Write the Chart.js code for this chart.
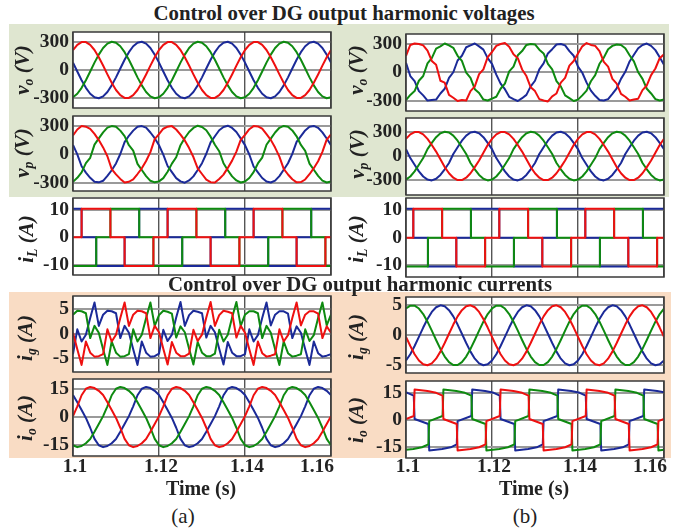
<!DOCTYPE html>
<html><head><meta charset="utf-8">
<script src="https://cdn.jsdelivr.net/npm/chart.js@4.4.1/dist/chart.umd.min.js"></script>
<style>
html,body{margin:0;padding:0;background:#fff;}
#wrap{position:relative;width:674px;height:529px;overflow:hidden;font-family:"Liberation Serif","Times New Roman",serif;color:#222;}
.bg{position:absolute;}
#cv canvas{position:absolute;}
.t{position:absolute;white-space:nowrap;line-height:1;transform:translateX(-50%);}
.yl{position:absolute;white-space:nowrap;line-height:1;font-weight:bold;font-style:italic;font-size:21px;transform:translate(-50%,-50%) rotate(-90deg);}
.yl sub{font-size:65%;vertical-align:-0.3em;}
</style></head><body>
<div id="wrap">
 <div class="bg" style="left:9px;top:24px;width:660px;height:173px;background:#dfe6d0"></div>
 <div class="bg" style="left:9px;top:292px;width:662px;height:166px;background:#f9dcc4"></div>
 <div id="cv"></div>
 <div class="t" style="left:344px;top:3px;font-size:20.8px;font-weight:bold">Control over DG output harmonic voltages</div>
 <div class="t" style="left:360px;top:274px;font-size:20.8px;font-weight:bold">Control over DG output harmonic currents</div>
 <div class="t" style="left:201px;top:478px;font-size:20px;font-weight:bold">Time (s)</div>
 <div class="t" style="left:534px;top:478px;font-size:20px;font-weight:bold">Time (s)</div>
 <div class="t" style="left:183px;top:506px;font-size:21px">(a)</div>
 <div class="t" style="left:525px;top:506px;font-size:21px">(b)</div>
 <div class="yl" style="left:24px;top:70px">v<sub>o</sub> (V)</div>
 <div class="yl" style="left:24px;top:153px">v<sub>p</sub> (V)</div>
 <div class="yl" style="left:28px;top:239px">i<sub>L</sub> (A)</div>
 <div class="yl" style="left:27px;top:338px">i<sub>g</sub> (A)</div>
 <div class="yl" style="left:27px;top:418px">i<sub>o</sub> (A)</div>
 <div class="yl" style="left:358px;top:70px">v<sub>o</sub> (V)</div>
 <div class="yl" style="left:359px;top:154px">v<sub>p</sub> (V)</div>
 <div class="yl" style="left:358px;top:239px">i<sub>L</sub> (A)</div>
 <div class="yl" style="left:358px;top:337px">i<sub>g</sub> (A)</div>
 <div class="yl" style="left:358px;top:420px">i<sub>o</sub> (A)</div>
</div>
<script>
// ---------- data ----------
const xTickValues = [1.1, 1.12, 1.14, 1.16];
const xTickLabels = ['1.1', '1.12', '1.14', '1.16'];
const time = [1.100,1.101,1.102,1.103,1.104,1.105,1.106,1.107,1.108,1.109,
1.110,1.111,1.112,1.113,1.114,1.115,1.116,1.117,1.118,1.119,
1.120,1.121,1.122,1.123,1.124,1.125,1.126,1.127,1.128,1.129,
1.130,1.131,1.132,1.133,1.134,1.135,1.136,1.137,1.138,1.139,
1.140,1.141,1.142,1.143,1.144,1.145,1.146,1.147,1.148,1.149,
1.150,1.151,1.152,1.153,1.154,1.155,1.156,1.157,1.158,1.159,1.160];

// (a) vo
const voA_red = [212,267,296,296,267,212,136,47,-47,-136,-212,-267,-296,-296,-267,-212,-136,-47,47,136,
212,267,296,296,267,212,136,47,-47,-136,-212,-267,-296,-296,-267,-212,-136,-47,47,136,
212,267,296,296,267,212,136,47,-47,-136,-212,-267,-296,-296,-267,-212,-136,-47,47,136,212];
const voA_green = [-290,-252,-189,-108,-16,78,163,233,280,300,290,252,189,108,16,-78,-163,-233,-280,-300,
-290,-252,-189,-108,-16,78,163,233,280,300,290,252,189,108,16,-78,-163,-233,-280,-300,
-290,-252,-189,-108,-16,78,163,233,280,300,290,252,189,108,16,-78,-163,-233,-280,-300,-290];
const voA_blue = [78,-16,-108,-189,-252,-290,-300,-280,-233,-163,-78,16,108,189,252,290,300,280,233,163,
78,-16,-108,-189,-252,-290,-300,-280,-233,-163,-78,16,108,189,252,290,300,280,233,163,
78,-16,-108,-189,-252,-290,-300,-280,-233,-163,-78,16,108,189,252,290,300,280,233,163,78];
// (a) vp
const vpA_red = [200,262,300,292,268,215,150,72,-22,-158,-214,-262,-300,-292,-266,-210,-150,-72,22,160,
212,270,292,298,262,208,146,65,-30,-150,-210,-270,-296,-300,-262,-216,-145,-68,28,152,
205,265,298,295,270,212,152,70,-25,-155,-215,-265,-298,-295,-268,-212,-148,-75,25,155,210];
const vpA_green = [-292,-250,-192,-95,-38,102,168,232,282,298,292,250,192,95,38,-102,-168,-232,-282,-298,
-288,-254,-186,-100,-32,96,172,235,278,302,288,254,186,100,32,-96,-170,-235,-278,-300,
-290,-252,-190,-98,-36,100,165,230,280,300,290,252,190,98,36,-100,-165,-230,-280,-300,-290];
const vpA_blue = [98,-2,-128,-195,-250,-292,-298,-282,-230,-170,-98,2,128,195,250,292,298,282,230,170,
95,-5,-125,-190,-254,-288,-302,-278,-235,-168,-95,5,125,190,254,288,302,278,235,168,
96,-3,-130,-192,-252,-290,-300,-280,-232,-165,-96,3,130,192,252,290,300,280,232,166,96];
// (b) vo
const voB_red = [175,290,305,300,285,230,120,80,-90,-110,-240,-270,-305,-295,-300,-200,-150,-20,30,160,
215,280,300,310,270,190,150,30,-40,-160,-200,-285,-300,-310,-255,-225,-110,-60,70,120,
200,275,310,290,280,225,110,60,-70,-120,-230,-260,-300,-290,-280,-190,-140,-30,40,150,190];
const voB_green = [-295,-240,-200,-90,-40,95,150,250,275,305,285,260,175,120,-5,-60,-180,-220,-290,-300,
-280,-260,-175,-120,10,60,180,225,290,300,295,240,200,90,30,-95,-150,-245,-275,-305,
-290,-245,-195,-95,-30,90,155,245,280,295,290,255,180,115,0,-70,-175,-225,-285,-300,-290];
const voB_blue = [100,-40,-95,-200,-245,-300,-295,-290,-225,-175,-60,0,125,175,265,285,305,275,240,150,
90,-25,-120,-180,-260,-285,-305,-275,-240,-150,-90,30,95,200,245,295,300,285,225,175,
60,-5,-110,-195,-250,-295,-300,-285,-230,-170,-70,5,115,185,255,290,305,280,235,160,80];
// (b) vp
const vpB_red = [212,267,296,296,267,212,136,55,-40,-136,-212,-267,-296,-296,-267,-212,-136,-55,40,136,
212,267,296,296,267,212,136,55,-40,-136,-212,-267,-296,-296,-267,-212,-136,-55,40,136,
212,267,296,296,267,212,136,55,-40,-136,-212,-267,-296,-296,-267,-212,-136,-55,40,136,212];
const vpB_green = [-290,-252,-189,-108,-25,85,163,233,280,300,290,252,189,108,25,-85,-163,-233,-280,-300,
-290,-252,-189,-108,-25,85,163,233,280,300,290,252,189,108,25,-85,-163,-233,-280,-300,
-290,-252,-189,-108,-25,85,163,233,280,300,290,252,189,108,25,-85,-163,-233,-280,-300,-290];
const vpB_blue = [85,-25,-108,-189,-252,-290,-300,-280,-233,-163,-85,25,108,189,252,290,300,280,233,163,
85,-25,-108,-189,-252,-290,-300,-280,-233,-163,-85,25,108,189,252,290,300,280,233,163,
85,-25,-108,-189,-252,-290,-300,-280,-233,-163,-85,25,108,189,252,290,300,280,233,163,85];

// iL (stepped)
const iLA_redT = [1.1,1.102,1.1087,1.112,1.1187,1.122,1.1287,1.132,1.1387,1.142,1.1487,1.152,1.1587,1.16];
const iLA_redV = [0,10.5,0,-10.5,0,10.5,0,-10.5,0,10.5,0,-10.5,0,0];
const iLA_greenT = [1.1,1.1054,1.1087,1.1154,1.1187,1.1254,1.1287,1.1354,1.1387,1.1454,1.1487,1.1554,1.1587,1.16];
const iLA_greenV = [-10.5,0,10.5,0,-10.5,0,10.5,0,-10.5,0,10.5,0,-10.5,-10.5];
const iLA_blueT = [1.1,1.102,1.1054,1.112,1.1154,1.122,1.1254,1.132,1.1354,1.142,1.1454,1.152,1.1554,1.16];
const iLA_blueV = [10.5,0,-10.5,0,10.5,0,-10.5,0,10.5,0,-10.5,0,10.5,10.5];
const iLB_redT = [1.1,1.1017,1.1084,1.1117,1.1184,1.1217,1.1284,1.1317,1.1384,1.1417,1.1484,1.1517,1.1584,1.16];
const iLB_redV = [0,10.4,0,-10.4,0,10.4,0,-10.4,0,10.4,0,-10.4,0,0];
const iLB_greenT = [1.1,1.1051,1.1084,1.1151,1.1184,1.1251,1.1284,1.1351,1.1384,1.1451,1.1484,1.1551,1.1584,1.16];
const iLB_greenV = [-10.4,0,10.4,0,-10.4,0,10.4,0,-10.4,0,10.4,0,-10.4,-10.4];
const iLB_blueT = [1.1,1.1017,1.1051,1.1117,1.1151,1.1217,1.1251,1.1317,1.1351,1.1417,1.1451,1.1517,1.1551,1.16];
const iLB_blueV = [10.4,0,-10.4,0,10.4,0,-10.4,0,10.4,0,-10.4,0,10.4,10.4];

// (a) ig
const igA_red = [0.2,-3.2,-6.4,-1.6,-3.9,-4.7,-4.6,-4.2,0.9,-1.6,-0.2,3.2,6.4,1.6,3.9,4.7,4.6,4.2,-0.9,1.6,
0.3,-3.1,-6.3,-1.7,-3.9,-4.6,-4.6,-4.1,0.8,-1.5,-0.2,3.3,6.5,1.6,3.8,4.7,4.5,4.2,-0.8,1.6,
0.2,-3.2,-6.4,-1.6,-4.0,-4.7,-4.5,-4.2,0.9,-1.6,-0.3,3.2,6.4,1.7,3.9,4.6,4.6,4.1,-0.9,1.5,0.2];
const igA_green = [3.9,4.7,4.6,4.2,-0.9,1.6,0.2,-3.2,-6.4,-1.6,-3.9,-4.7,-4.6,-4.2,0.9,-1.6,-0.2,3.2,6.4,1.6,
3.8,4.7,4.5,4.1,-0.8,1.5,0.3,-3.1,-6.3,-1.7,-3.9,-4.6,-4.6,-4.1,0.8,-1.6,-0.2,3.3,6.5,1.6,
3.9,4.6,4.6,4.2,-0.9,1.6,0.2,-3.2,-6.4,-1.6,-4.0,-4.7,-4.5,-4.2,0.9,-1.5,-0.3,3.2,6.4,1.7,3.9];
const igA_blue = [-4.2,0.9,-1.6,-0.2,3.2,6.4,1.6,3.9,4.7,4.6,4.2,-0.9,1.6,0.2,-3.2,-6.4,-1.6,-3.9,-4.7,-4.6,
-4.1,0.8,-1.5,-0.2,3.3,6.5,1.6,3.8,4.7,4.5,4.2,-0.8,1.6,0.3,-3.1,-6.3,-1.7,-3.9,-4.6,-4.6,
-4.2,0.9,-1.6,-0.3,3.2,6.4,1.7,3.9,4.6,4.6,4.1,-0.9,1.5,0.2,-3.2,-6.4,-1.6,-4.0,-4.7,-4.5,-4.2];
// (b) ig
const igB_red = [-0.26,-1.79,-3.15,-4.19,-4.83,-4.99,-4.67,-3.89,-2.72,-1.29,0.26,1.79,3.15,4.19,4.83,4.99,4.67,3.89,2.72,1.29,
-0.26,-1.79,-3.15,-4.19,-4.83,-4.99,-4.67,-3.89,-2.72,-1.29,0.26,1.79,3.15,4.19,4.83,4.99,4.67,3.89,2.72,1.29,
-0.26,-1.79,-3.15,-4.19,-4.83,-4.99,-4.67,-3.89,-2.72,-1.29,0.26,1.79,3.15,4.19,4.83,4.99,4.67,3.89,2.72,1.29,-0.26];
const igB_green = [4.46,4.94,4.94,4.46,3.54,2.27,0.78,-0.78,-2.27,-3.54,-4.46,-4.94,-4.94,-4.46,-3.54,-2.27,-0.78,0.78,2.27,3.54,
4.46,4.94,4.94,4.46,3.54,2.27,0.78,-0.78,-2.27,-3.54,-4.46,-4.94,-4.94,-4.46,-3.54,-2.27,-0.78,0.78,2.27,3.54,
4.46,4.94,4.94,4.46,3.54,2.27,0.78,-0.78,-2.27,-3.54,-4.46,-4.94,-4.94,-4.46,-3.54,-2.27,-0.78,0.78,2.27,3.54,4.46];
const igB_blue = [-4.19,-3.15,-1.79,-0.26,1.29,2.72,3.89,4.67,4.99,4.83,4.19,3.15,1.79,0.26,-1.29,-2.72,-3.89,-4.67,-4.99,-4.83,
-4.19,-3.15,-1.79,-0.26,1.29,2.72,3.89,4.67,4.99,4.83,4.19,3.15,1.79,0.26,-1.29,-2.72,-3.89,-4.67,-4.99,-4.83,
-4.19,-3.15,-1.79,-0.26,1.29,2.72,3.89,4.67,4.99,4.83,4.19,3.15,1.79,0.26,-1.29,-2.72,-3.89,-4.67,-4.99,-4.83,-4.19];
// (a) io
const ioA_red = [0.5,5.8,11.8,15.3,16.3,15.7,14.2,11.9,8.0,3.8,-0.5,-5.8,-11.8,-15.3,-16.3,-15.7,-14.2,-11.9,-8.0,-3.8,
0.5,5.8,11.8,15.3,16.3,15.7,14.2,11.9,8.0,3.8,-0.5,-5.8,-11.8,-15.3,-16.3,-15.7,-14.2,-11.9,-8.0,-3.8,
0.5,5.8,11.8,15.3,16.3,15.7,14.2,11.9,8.0,3.8,-0.5,-5.8,-11.8,-15.3,-16.3,-15.7,-14.2,-11.9,-8.0,-3.8,0.5];
const ioA_green = [-15.3,-16.3,-15.7,-14.2,-11.9,-8.0,-3.8,0.5,5.8,11.8,15.3,16.3,15.7,14.2,11.9,8.0,3.8,-0.5,-5.8,-11.8,
-15.3,-16.3,-15.7,-14.2,-11.9,-8.0,-3.8,0.5,5.8,11.8,15.3,16.3,15.7,14.2,11.9,8.0,3.8,-0.5,-5.8,-11.8,
-15.3,-16.3,-15.7,-14.2,-11.9,-8.0,-3.8,0.5,5.8,11.8,15.3,16.3,15.7,14.2,11.9,8.0,3.8,-0.5,-5.8,-11.8,-15.3];
const ioA_blue = [11.9,8.0,3.8,-0.5,-5.8,-11.8,-15.3,-16.3,-15.7,-14.2,-11.9,-8.0,-3.8,0.5,5.8,11.8,15.3,16.3,15.7,14.2,
11.9,8.0,3.8,-0.5,-5.8,-11.8,-15.3,-16.3,-15.7,-14.2,-11.9,-8.0,-3.8,0.5,5.8,11.8,15.3,16.3,15.7,14.2,
11.9,8.0,3.8,-0.5,-5.8,-11.8,-15.3,-16.3,-15.7,-14.2,-11.9,-8.0,-3.8,0.5,5.8,11.8,15.3,16.3,15.7,14.2,11.9];
// (b) io
const ioB_redT = [1.1,1.1018,1.102,1.105,1.107,1.1085,1.1087,1.1118,1.112,1.115,1.117,1.1185,1.1187,1.1218,1.122,1.125,1.127,1.1285,1.1287,1.1318,1.132,1.135,1.137,1.1385,1.1387,1.1418,1.142,1.145,1.147,1.1485,1.1487,1.1518,1.152,1.155,1.157,1.1585,1.1587,1.16];
const ioB_redV = [0.6,2.2,16.8,16.0,15.0,13.4,0.6,-2.2,-16.8,-16.0,-15.0,-13.4,-0.6,2.2,16.8,16.0,15.0,13.4,0.6,-2.2,-16.8,-16.0,-15.0,-13.4,-0.6,2.2,16.8,16.0,15.0,13.4,0.6,-2.2,-16.8,-16.0,-15.0,-13.4,-0.6,0.6];
const ioB_greenT = [1.1,1.1017,1.1037,1.1052,1.1054,1.1085,1.1087,1.1117,1.1137,1.1152,1.1154,1.1185,1.1187,1.1217,1.1237,1.1252,1.1254,1.1285,1.1287,1.1317,1.1337,1.1352,1.1354,1.1385,1.1387,1.1417,1.1437,1.1452,1.1454,1.1485,1.1487,1.1517,1.1537,1.1552,1.1554,1.1585,1.1587,1.16];
const ioB_greenV = [-16.4,-16.0,-15.0,-13.4,-0.6,2.2,16.8,16.0,15.0,13.4,0.6,-2.2,-16.8,-16.0,-15.0,-13.4,-0.6,2.2,16.8,16.0,15.0,13.4,0.6,-2.2,-16.8,-16.0,-15.0,-13.4,-0.6,2.2,16.8,16.0,15.0,13.4,0.6,-2.2,-16.8,-16.4];
const ioB_blueT = [1.1,1.1003,1.1018,1.102,1.1052,1.1054,1.1084,1.1104,1.1118,1.112,1.1152,1.1154,1.1184,1.1204,1.1218,1.122,1.1252,1.1254,1.1284,1.1304,1.1318,1.132,1.1352,1.1354,1.1384,1.1404,1.1418,1.142,1.1452,1.1454,1.1484,1.1504,1.1518,1.152,1.1552,1.1554,1.1584,1.16];
const ioB_blueV = [15.2,15.0,13.4,0.6,-2.2,-16.8,-16.0,-15.0,-13.4,-0.6,2.2,16.8,16.0,15.0,13.4,0.6,-2.2,-16.8,-16.0,-15.0,-13.4,-0.6,2.2,16.8,16.0,15.0,13.4,0.6,-2.2,-16.8,-16.0,-15.0,-13.4,-0.6,2.2,16.8,16.0,15.3];

// ---------- drawing ----------
const RED = '#ee1010', GREEN = '#0e8a10', BLUE = '#1b2a98';
const FONT = "'Liberation Serif', 'Times New Roman', serif";
function pts(xs, ys) { return xs.map((x, i) => ({x: x, y: ys[i]})); }

const framePlugin = {
  id: 'frame',
  beforeDraw(c) {
    const a = c.chartArea, x = c.ctx;
    x.save(); x.fillStyle = '#fff'; x.fillRect(a.left, a.top, a.right - a.left, a.bottom - a.top); x.restore();
  },
  afterDraw(c, args, opts) {
    const a = c.chartArea, x = c.ctx;
    x.save();
    x.strokeStyle = '#3a3a3a'; x.lineWidth = 1.5;
    x.strokeRect(a.left, a.top, a.right - a.left, a.bottom - a.top);
    if (opts.xlabels) {
      const s = c.scales.x;
      x.font = 'bold 19.5px ' + FONT; x.fillStyle = '#222'; x.textBaseline = 'middle';
      xTickValues.forEach((v, i) => {
        const px = s.getPixelForValue(v);
        if (i === xTickValues.length - 1) { x.textAlign = 'right'; x.fillText(xTickLabels[i], px + 3, opts.labelY); }
        else { x.textAlign = 'center'; x.fillText(xTickLabels[i], px + 2, opts.labelY); }
      });
    }
    x.restore();
  }
};

const cv = document.getElementById('cv');
function panel(cfg) {
  const YW = 70, PT = 3, PR = 5, PB = cfg.bottom ? 26 : 3;
  const c = document.createElement('canvas');
  const w = YW + cfg.W + PR, h = PT + cfg.H + PB;
  c.width = w; c.height = h;
  c.style.left = (cfg.L - YW) + 'px'; c.style.top = (cfg.T - PT) + 'px';
  c.style.width = w + 'px'; c.style.height = h + 'px';
  cv.appendChild(c);
  const cols = [RED, GREEN, BLUE];
  new Chart(c, {
    type: 'line',
    data: { datasets: cfg.series.map((s, i) => ({
      data: pts(s[0], s[1]), borderColor: cols[i], borderWidth: 2, pointRadius: 0,
      tension: 0, fill: false, stepped: !!cfg.stepped, borderJoinStyle: 'round' })) },
    options: {
      responsive: false, animation: false, devicePixelRatio: 1, events: [],
      layout: { padding: { left: 0, top: PT, right: PR, bottom: PB } },
      plugins: { legend: { display: false }, tooltip: { enabled: false },
                 frame: { xlabels: !!cfg.bottom, labelY: 467 - (cfg.T - PT) } },
      scales: {
        x: { type: 'linear', min: 1.1, max: 1.16,
             afterBuildTicks: s => { s.ticks = xTickValues.map(v => ({value: v})); },
             afterFit: s => { s.height = 0; s.paddingLeft = 0; s.paddingRight = 0; s.paddingTop = 0; s.paddingBottom = 0; },
             ticks: { display: false },
             grid: { color: '#555', lineWidth: 1.4, drawTicks: false },
             border: { display: false } },
        y: { min: cfg.ymin, max: cfg.ymax,
             afterBuildTicks: s => { s.ticks = cfg.yticks.map(v => ({value: v})); },
             afterFit: s => { s.width = YW; s.paddingTop = 0; s.paddingBottom = 0; s.paddingLeft = 0; s.paddingRight = 0; },
             ticks: { font: { family: FONT, size: 19.5, weight: 'bold' }, color: '#222', padding: 4 },
             grid: { color: '#9a9a9a', lineWidth: 2, drawTicks: false },
             border: { display: false } }
      }
    },
    plugins: [framePlugin]
  });
}

const vt = [-300, 0, 300];
panel({L:73, T:32, W:258, H:76, ymin:-403, ymax:403, yticks:vt,
  series:[[time,voA_red],[time,voA_green],[time,voA_blue]]});
panel({L:73, T:116, W:258, H:75, ymin:-390, ymax:405, yticks:vt,
  series:[[time,vpA_red],[time,vpA_green],[time,vpA_blue]]});
panel({L:73, T:198, W:258, H:77, ymin:-13.8, ymax:14.4, yticks:[-10,0,10], stepped:true,
  series:[[iLA_redT,iLA_redV],[iLA_greenT,iLA_greenV],[iLA_blueT,iLA_blueV]]});
panel({L:73, T:296, W:258, H:76, ymin:-7.85, ymax:7.73, yticks:[-5,0,5],
  series:[[time,igA_red],[time,igA_green],[time,igA_blue]]});
panel({L:73, T:379, W:258, H:77, ymin:-21.1, ymax:20.6, yticks:[-15,0,15], bottom:true,
  series:[[time,ioA_red],[time,ioA_green],[time,ioA_blue]]});

panel({L:406, T:34, W:258, H:77, ymin:-411, ymax:406, yticks:vt,
  series:[[time,voB_red],[time,voB_green],[time,voB_blue]]});
panel({L:406, T:118, W:258, H:77, ymin:-480, ymax:469, yticks:vt,
  series:[[time,vpB_red],[time,vpB_green],[time,vpB_blue]]});
panel({L:406, T:198, W:258, H:79, ymin:-14.2, ymax:14.3, yticks:[-10,0,10], stepped:true,
  series:[[iLB_redT,iLB_redV],[iLB_greenT,iLB_greenV],[iLB_blueT,iLB_blueV]]});
panel({L:406, T:297, W:258, H:76, ymin:-6.28, ymax:6.38, yticks:[-5,0,5],
  series:[[time,igB_red],[time,igB_green],[time,igB_blue]]});
panel({L:406, T:381, W:258, H:77, ymin:-20.9, ymax:21.5, yticks:[-15,0,15], bottom:true,
  series:[[ioB_redT,ioB_redV],[ioB_greenT,ioB_greenV],[ioB_blueT,ioB_blueV]]});
</script>
</body></html>
